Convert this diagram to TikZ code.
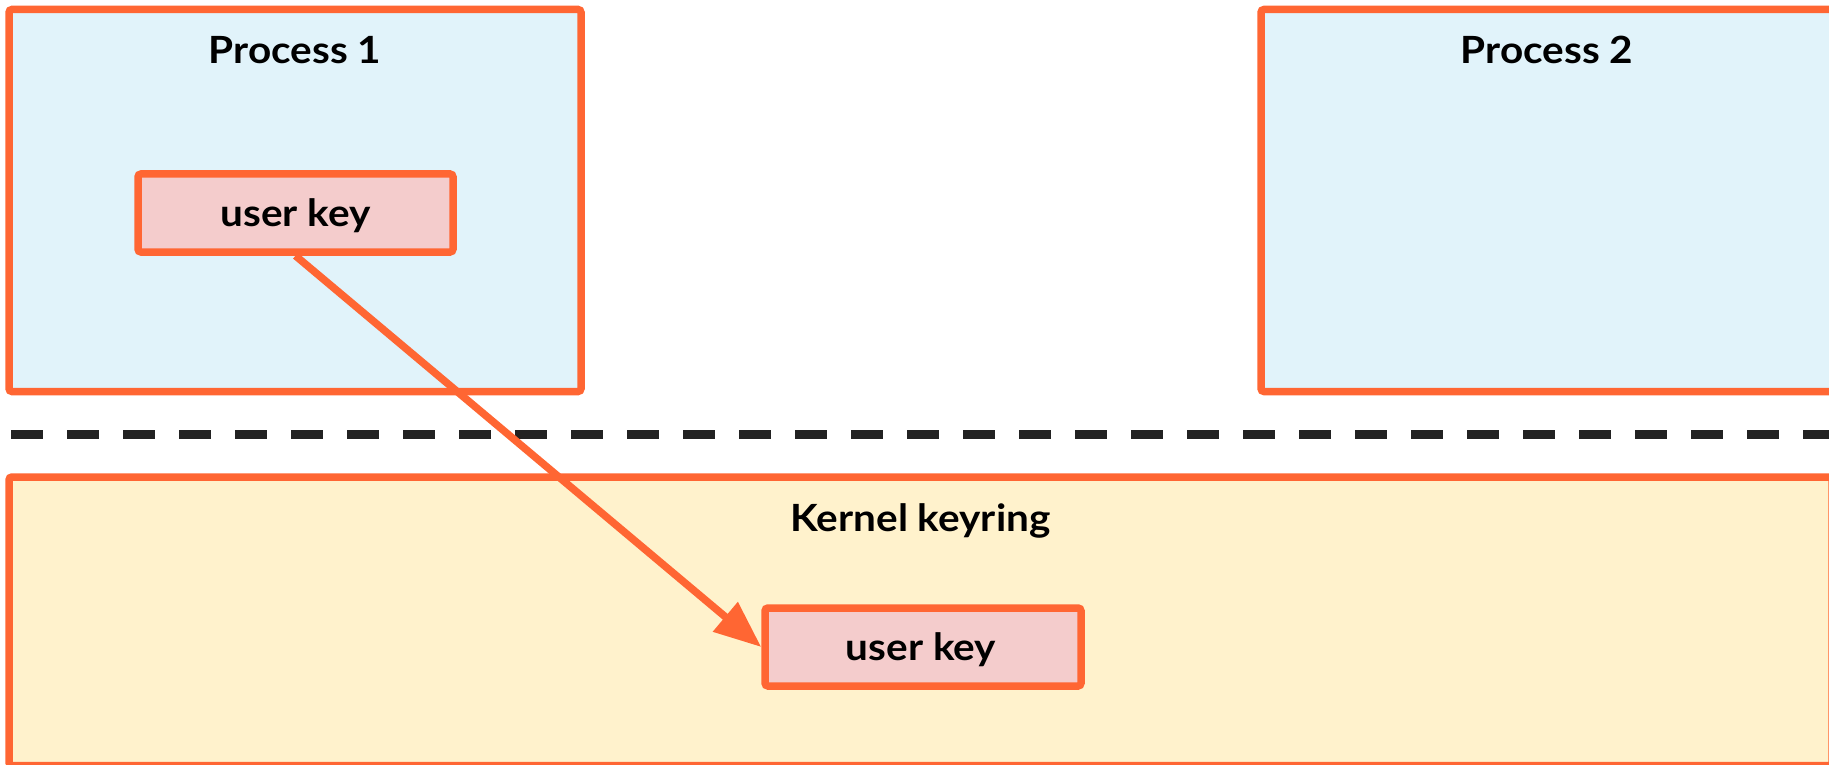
\documentclass[tikz,border=0pt]{standalone}
\usepackage{fontspec}
\setmainfont{Lato}[FakeStretch=1.08]
\usetikzlibrary{arrows.meta}

\definecolor{edgeorange}{RGB}{255,102,51}
\definecolor{procfill}{RGB}{225,243,250}
\definecolor{keyfill}{RGB}{244,204,204}
\definecolor{kernfill}{RGB}{255,242,204}
\definecolor{dashgray}{RGB}{34,34,34}

\tikzset{
  box/.style={draw=edgeorange, line width=7.5pt, rounded corners=3pt,
              rectangle, inner sep=0pt},
  procbox/.style={box, fill=procfill, minimum width=572pt, minimum height=382pt},
  kernbox/.style={box, fill=kernfill, minimum width=1823pt, minimum height=288.5pt},
  keybox/.style={box, fill=keyfill, minimum height=78pt},
  title/.style={font=\fontsize{37.5}{42}\selectfont\bfseries, anchor=base, inner sep=0pt},
  keytext/.style={font=\fontsize{37.5}{42}\selectfont\bfseries, anchor=base, inner sep=0pt},
  divider/.style={draw=dashgray, line width=8.5pt, dash pattern=on 32pt off 24pt},
  link/.style={draw=edgeorange, line width=7.5pt,
               -{Triangle[length=47pt, width=37pt]}}
}

\begin{document}
\begin{tikzpicture}[x=1pt, y=-1pt]
  \useasboundingbox (0,0) rectangle (1829,765);
  \clip (0,0) rectangle (1829,765);

  % user-space processes
  \node[procbox] (p1) at (295,200.5) {};
  \node[procbox] (p2) at (1547,200.5) {};
  \node[title] (p1t) at (295,63.3) {Process 1};
  \node[title] (p2t) at (1547,63.3) {Process 2};

  % kernel space
  \node[kernbox] (kern) at (920.5,621.25) {};
  \node[title] (kernt) at (920.5,531.7) {Kernel keyring};

  % user / kernel boundary
  \coordinate (divL) at (11,434.5);
  \coordinate (divR) at (1829,434.5);
  \draw[divider] (divL) -- (divR);

  % keys
  \node[keybox, minimum width=315pt] (u1) at (295.5,213) {};
  \node[keytext] (u1t) at (295.5,226.7) {user key};
  \node[keybox, minimum width=316pt] (u2) at (923,647) {};
  \node[keytext] (u2t) at (921,660) {user key};

  % key handed to the kernel
  \draw[link] (u1.south) -- (u2.west);
\end{tikzpicture}
\end{document}
